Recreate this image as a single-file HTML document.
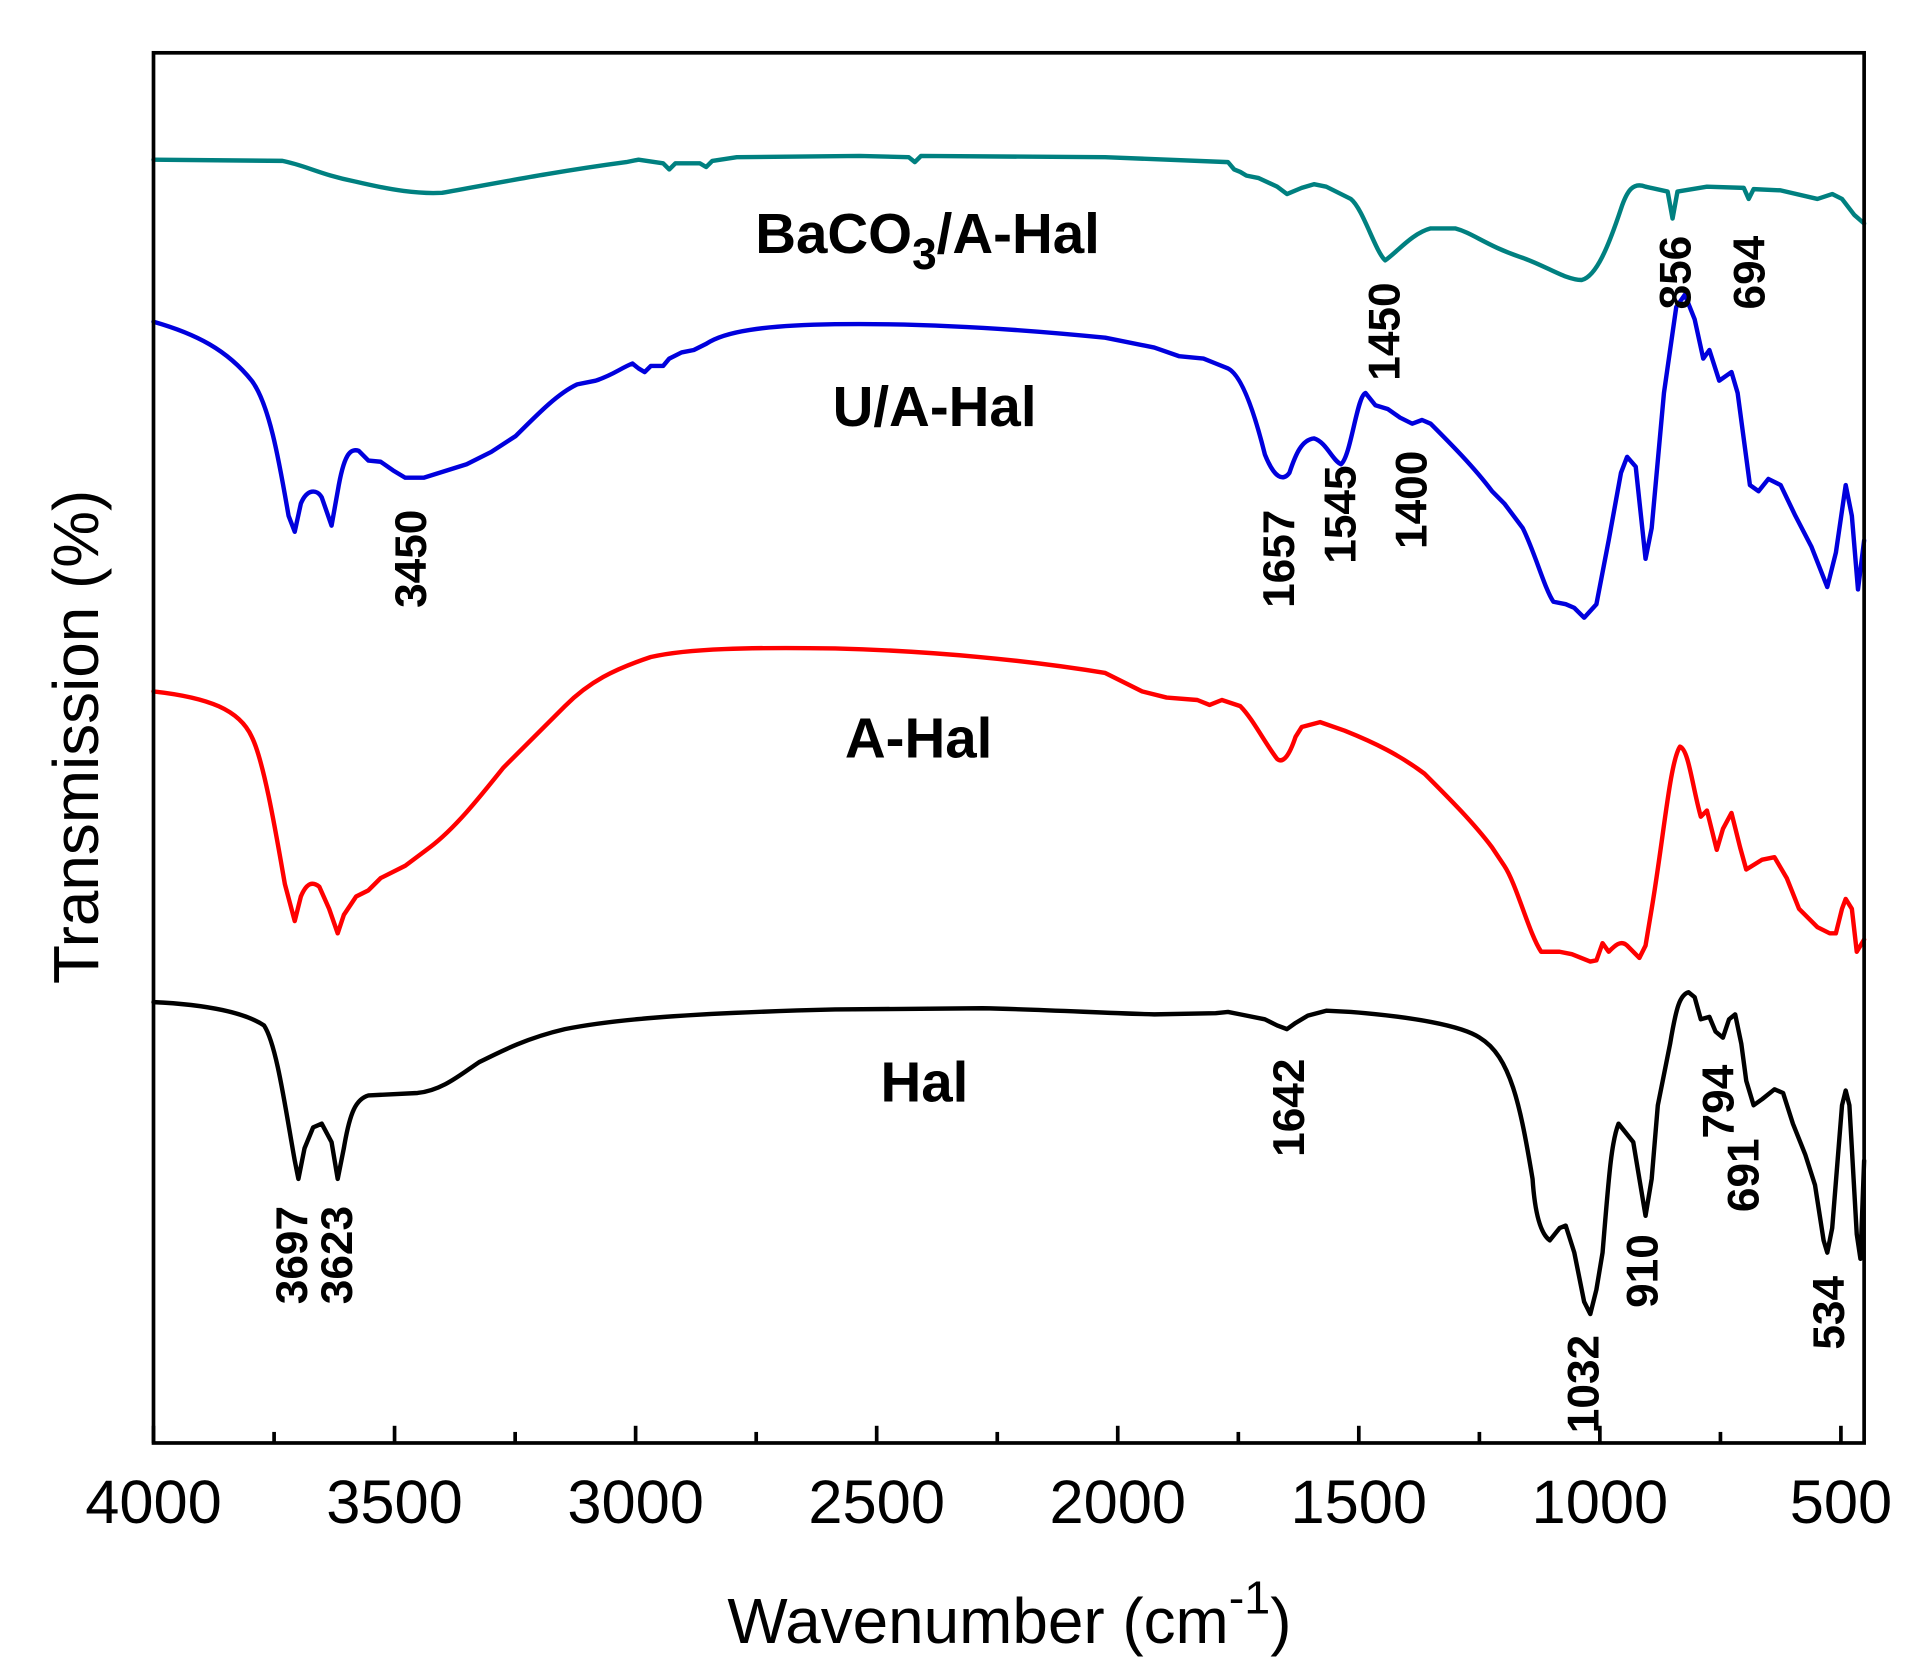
<!DOCTYPE html>
<html><head><meta charset="utf-8"><style>html,body{margin:0;padding:0;background:#fff;}svg{display:block}</style></head>
<body>
<svg width="1920" height="1680" viewBox="0 0 1563.5 1368" preserveAspectRatio="none" xmlns="http://www.w3.org/2000/svg">
<g fill="none" stroke-linejoin="round" stroke-linecap="round" stroke-width="3.6">
<path stroke="#008080" d="M125,130 L230,131 C250,135 260,142 290,148 C320,155 340,158 360,157 C400,150 450,140 510,132 L520,130 L540,133 L545,138 L550,133 L570,133 L575,136 L580,131 L600,128 L700,127 L740,128 L745,132 L750,127 L900,128 L1000,132 L1005,138 L1010,140 L1015,143 L1025,145 L1040,152 L1048,158 L1060,153 L1070,150 L1080,152 L1090,157 L1100,162 C1110,170 1120,205 1128,212 C1138,205 1150,190 1165,186 L1185,186 C1200,190 1210,200 1240,210 C1260,217 1275,228 1288,228 C1300,225 1310,200 1320,170 C1325,155 1330,148 1340,152 L1358,156 L1362,178 L1366,156 L1390,152 L1420,153 L1424,162 L1428,154 L1450,155 L1480,162 L1492,158 L1500,162 L1510,175 L1518,182"/>
<path stroke="#0000dd" d="M125,262 C160,272 185,285 205,310 C220,330 228,380 235,420 L240,433 L245,410 C250,398 258,398 262,405 L270,428 L275,400 C280,370 285,365 292,367 L300,375 L310,376 L320,383 L330,389 L345,389 L380,378 L400,368 L420,355 C440,335 455,320 470,313 L485,310 C500,305 505,300 515,296 L520,300 L525,303 L530,298 L540,298 L545,292 L555,287 L565,285 L575,280 C590,270 620,265 680,264 C750,263 830,268 900,275 L940,283 L960,290 L980,292 L990,296 L1000,300 C1010,305 1020,330 1030,370 C1038,390 1045,392 1050,385 C1055,370 1060,358 1070,357 C1080,360 1085,375 1092,378 C1100,372 1105,322 1112,320 L1120,330 L1130,333 L1140,340 L1150,345 L1158,342 L1165,345 C1180,360 1200,380 1215,400 L1225,410 L1240,430 C1250,450 1258,480 1265,490 L1275,492 L1282,495 L1290,503 L1300,492 L1310,440 L1320,385 L1325,372 L1332,380 L1340,455 L1345,430 L1355,320 L1365,250 L1372,240 L1380,260 L1387,292 L1392,285 L1400,310 L1410,303 L1415,320 L1425,395 L1432,400 L1440,390 L1450,395 L1462,420 L1475,445 L1488,478 L1495,450 L1503,395 L1508,420 L1513,480 L1518,440"/>
<path stroke="#ff0000" d="M125,563 C170,568 195,578 205,600 C215,620 225,680 232,720 L240,750 L245,730 C250,718 255,718 260,722 L268,740 L275,760 L280,745 L290,730 L300,725 L310,715 L330,705 L350,690 C370,675 390,650 410,625 C430,605 445,590 460,575 C480,555 500,545 530,535 C560,528 610,527 680,528 C760,530 840,538 900,548 L930,563 L950,568 L975,570 L985,574 L995,570 L1010,575 C1020,585 1030,605 1040,618 C1045,622 1050,615 1055,600 L1060,592 L1075,588 L1095,595 C1120,605 1140,615 1160,630 C1180,650 1200,670 1215,690 L1225,705 C1235,720 1245,760 1255,775 L1270,775 L1280,777 L1295,783 L1300,782 L1305,768 L1310,775 C1315,770 1320,765 1325,770 L1335,780 L1340,770 L1345,740 C1355,680 1360,620 1368,608 C1375,610 1378,640 1385,665 L1390,660 L1398,692 L1403,675 L1410,662 L1417,690 L1422,708 L1435,700 L1445,698 L1455,715 L1465,740 L1480,755 L1490,760 L1495,760 L1500,740 L1503,732 L1508,740 L1512,775 L1518,765"/>
<path stroke="#000" d="M125,816 C170,818 200,825 215,835 C225,850 232,900 240,945 L243,960 L248,935 L255,918 L262,915 L270,930 L275,960 L280,935 C285,905 290,895 300,892 L340,890 C360,888 375,875 390,865 C410,855 430,845 460,838 C500,830 560,825 680,822 L800,821 C850,822 900,825 940,826 L990,825 L1000,824 L1010,826 L1030,830 L1040,835 L1048,838 L1055,833 L1065,827 L1080,823 L1100,824 C1150,828 1190,835 1205,845 C1230,860 1238,900 1248,960 C1250,990 1255,1005 1262,1010 L1270,1000 L1275,998 L1282,1020 L1290,1060 L1295,1070 L1300,1050 L1305,1020 C1310,960 1312,930 1318,915 L1330,930 L1335,960 L1340,990 L1345,960 L1350,900 L1360,850 C1365,820 1368,810 1375,808 L1380,812 L1385,830 L1392,828 L1397,840 L1403,845 L1408,830 L1413,826 L1418,850 L1422,880 L1428,900 L1435,895 L1445,887 L1452,890 L1460,915 L1470,940 L1478,965 L1485,1010 L1488,1020 L1492,1000 L1500,900 L1503,888 L1506,900 L1512,1005 L1515,1025 L1518,945"/>
</g>
<rect x="125" y="43" width="1393" height="1132" fill="none" stroke="#000" stroke-width="3"/>
<g stroke="#000" stroke-width="3">
<line x1="125" y1="1175" x2="125" y2="1161"/><line x1="321.3" y1="1175" x2="321.3" y2="1161"/><line x1="517.6" y1="1175" x2="517.6" y2="1161"/><line x1="713.9" y1="1175" x2="713.9" y2="1161"/><line x1="910.2" y1="1175" x2="910.2" y2="1161"/><line x1="1106.5" y1="1175" x2="1106.5" y2="1161"/><line x1="1302.8" y1="1175" x2="1302.8" y2="1161"/><line x1="1499.1" y1="1175" x2="1499.1" y2="1161"/>
<line x1="223.2" y1="1175" x2="223.2" y2="1166"/><line x1="419.5" y1="1175" x2="419.5" y2="1166"/><line x1="615.8" y1="1175" x2="615.8" y2="1166"/><line x1="812.1" y1="1175" x2="812.1" y2="1166"/><line x1="1008.4" y1="1175" x2="1008.4" y2="1166"/><line x1="1204.7" y1="1175" x2="1204.7" y2="1166"/><line x1="1401" y1="1175" x2="1401" y2="1166"/>
</g>
<g font-family="Liberation Sans, sans-serif" font-size="50" text-anchor="middle" fill="#000">
<text x="125" y="1240">4000</text><text x="321.3" y="1240">3500</text><text x="517.6" y="1240">3000</text><text x="713.9" y="1240">2500</text><text x="910.2" y="1240">2000</text><text x="1106.5" y="1240">1500</text><text x="1302.8" y="1240">1000</text><text x="1499.1" y="1240">500</text>
<text x="822" y="1338" font-size="52">Wavenumber (cm<tspan dy="-24" font-size="38">-1</tspan><tspan dy="24">)</tspan></text>
<text transform="translate(80,600) rotate(-90)" font-size="52">Transmission (%)</text>
</g>
<g font-family="Liberation Sans, sans-serif" font-weight="bold" font-size="46" fill="#000">
<text x="615" y="206">BaCO<tspan dy="13" font-size="36">3</tspan><tspan dy="-13">/A-Hal</tspan></text>
<text x="678" y="347">U/A-Hal</text>
<text x="688" y="617">A-Hal</text>
<text x="717" y="897">Hal</text>
</g>
<g font-family="Liberation Sans, sans-serif" font-weight="bold" font-size="36" fill="#000" text-anchor="middle" dominant-baseline="central">
<text transform="translate(335,455) rotate(-90)">3450</text>
<text transform="translate(1042,455) rotate(-90)">1657</text>
<text transform="translate(1092,419) rotate(-90)">1545</text>
<text transform="translate(1150,407) rotate(-90)">1400</text>
<text transform="translate(1128,270) rotate(-90)">1450</text>
<text transform="translate(1365,222) rotate(-90)">856</text>
<text transform="translate(1425,222) rotate(-90)">694</text>
<text transform="translate(1050,902) rotate(-90)">1642</text>
<text transform="translate(238,1022) rotate(-90)">3697</text>
<text transform="translate(275,1022) rotate(-90)">3623</text>
<text transform="translate(1290,1127) rotate(-90)">1032</text>
<text transform="translate(1338,1035) rotate(-90)">910</text>
<text transform="translate(1400,897) rotate(-90)">794</text>
<text transform="translate(1420,957) rotate(-90)">691</text>
<text transform="translate(1490,1069) rotate(-90)">534</text>
</g>
</svg>
</body></html>
